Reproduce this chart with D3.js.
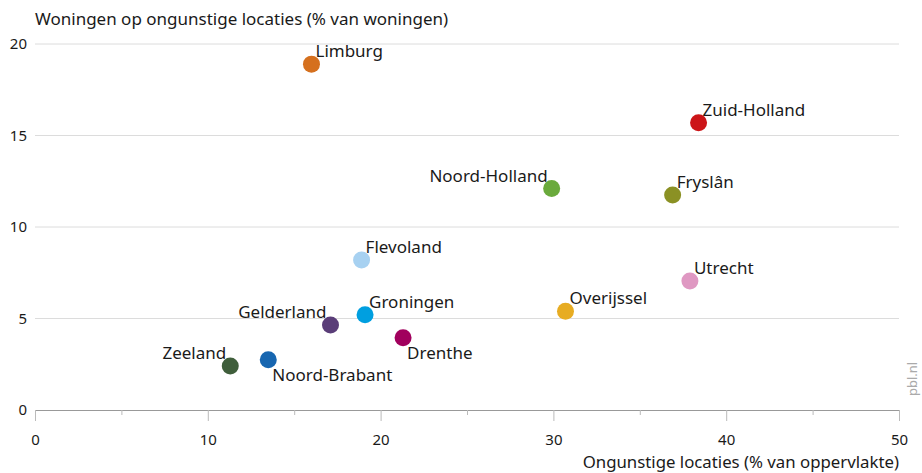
<!DOCTYPE html>
<html>
<head>
<meta charset="utf-8">
<script src="https://cdn.jsdelivr.net/npm/d3@7"></script>
<style>
  body { margin: 0; background: #fff; }
  svg text { font-family: "Noto Sans", "Open Sans", sans-serif; fill: #1a1a1a; }
</style>
</head>
<body>
<div id="chart"></div>
<script>
// provinces, x = % of area unfavourable, y = % of homes on unfavourable sites
const provinces = ['Limburg', 'Zuid-Holland', 'Noord-Holland', 'Fryslân', 'Flevoland', 'Utrecht',
  'Overijssel', 'Groningen', 'Gelderland', 'Drenthe', 'Noord-Brabant', 'Zeeland']
const areaPct = [16.0, 38.4, 29.9, 36.9, 18.9, 37.9, 30.7, 19.1, 17.1, 21.3, 13.5, 11.3]
const homesPct = [18.9, 15.7, 12.1, 11.75, 8.2, 7.05, 5.4, 5.2, 4.65, 3.95, 2.75, 2.4]
const xTicks = [0, 10, 20, 30, 40, 50]
const xMinorTicks = [5, 15, 25, 35, 45]
const yTicks = [0, 5, 10, 15, 20]

const colors = {
  'Limburg': '#d5701e', 'Zuid-Holland': '#cc1518', 'Noord-Holland': '#6aaa3c', 'Fryslân': '#8b9124',
  'Flevoland': '#a7d1f1', 'Utrecht': '#df98c2', 'Overijssel': '#e7ac22', 'Groningen': '#009fe0',
  'Gelderland': '#5a3d78', 'Drenthe': '#a1005d', 'Noord-Brabant': '#1766b0', 'Zeeland': '#3f5e3b'
}
// where each label sits relative to its dot
const labelSide = {
  'Noord-Holland': 'nw', 'Gelderland': 'nw', 'Zeeland': 'nw',
  'Drenthe': 'se', 'Noord-Brabant': 'se'
}

const data = provinces.map((p, i) => ({ name: p, x: areaPct[i], y: homesPct[i] }))

const svgWidth = 922, svgHeight = 473
const margin = { top: 44, right: 23, bottom: 63, left: 35 }
const width = svgWidth - margin.left - margin.right
const height = svgHeight - margin.top - margin.bottom

const svg = d3.select('#chart').append('svg')
  .attr('width', svgWidth).attr('height', svgHeight)

const g = svg.append('g')
  .attr('transform', 'translate(' + margin.left + ',' + margin.top + ')')

const x = d3.scaleLinear().domain([0, 50]).range([0, width])
const y = d3.scaleLinear().domain([0, 20]).range([height, 0])

// gridlines
g.selectAll('.grid')
  .data(yTicks.filter(d => d > 0))
  .enter().append('line')
  .attr('x1', 0).attr('x2', width)
  .attr('y1', d => y(d)).attr('y2', d => y(d))
  .attr('stroke', '#dcdcdc').attr('stroke-width', 1)

// Y axis labels
g.append('g')
  .call(d3.axisLeft(y).tickValues(yTicks).tickSize(0).tickPadding(8))
  .call(a => a.select('.domain').remove())
  .selectAll('text')
  .attr('font-size', 15)

// X axis
const xAxis = g.append('g')
  .attr('transform', 'translate(0,' + height + ')')
xAxis.call(d3.axisBottom(x).tickValues(xTicks).tickSize(11).tickSizeOuter(0).tickPadding(13))
xAxis.select('.domain').attr('stroke', '#999')
xAxis.selectAll('.tick line').attr('stroke', '#bbb')
xAxis.selectAll('text').attr('font-size', 15)

g.append('g')
  .attr('transform', 'translate(0,' + height + ')')
  .call(d3.axisBottom(x).tickValues(xMinorTicks).tickSize(5).tickFormat(''))
  .call(a => a.select('.domain').remove())
  .selectAll('.tick line').attr('stroke', '#bbb')

// titles
svg.append('text')
  .attr('x', margin.left).attr('y', 25)
  .attr('font-size', 17)
  .text('Woningen op ongunstige locaties (% van woningen)')

svg.append('text')
  .attr('x', margin.left + width).attr('y', 468)
  .attr('text-anchor', 'end')
  .attr('font-size', 16.8)
  .text('Ongunstige locaties (% van oppervlakte)')

svg.append('text')
  .attr('transform', 'translate(917,' + (margin.top + height - 14) + ') rotate(-90)')
  .attr('font-size', 13)
  .style('fill', '#aaa')
  .text('pbl.nl')

// dots
g.selectAll('circle')
  .data(data)
  .enter().append('circle')
  .attr('cx', d => x(d.x))
  .attr('cy', d => y(d.y))
  .attr('r', 8.5)
  .attr('fill', d => colors[d.name])

// labels
g.selectAll('.label')
  .data(data)
  .enter().append('text')
  .attr('class', 'label')
  .attr('font-size', 17)
  .attr('x', d => {
    const s = labelSide[d.name] || 'ne'
    return x(d.x) + (s === 'nw' ? -4 : 4)
  })
  .attr('y', d => {
    const s = labelSide[d.name] || 'ne'
    return y(d.y) + (s === 'se' ? 21 : -7)
  })
  .attr('text-anchor', d => (labelSide[d.name] === 'nw' ? 'end' : 'start'))
  .text(d => d.name)
</script>
</body>
</html>
